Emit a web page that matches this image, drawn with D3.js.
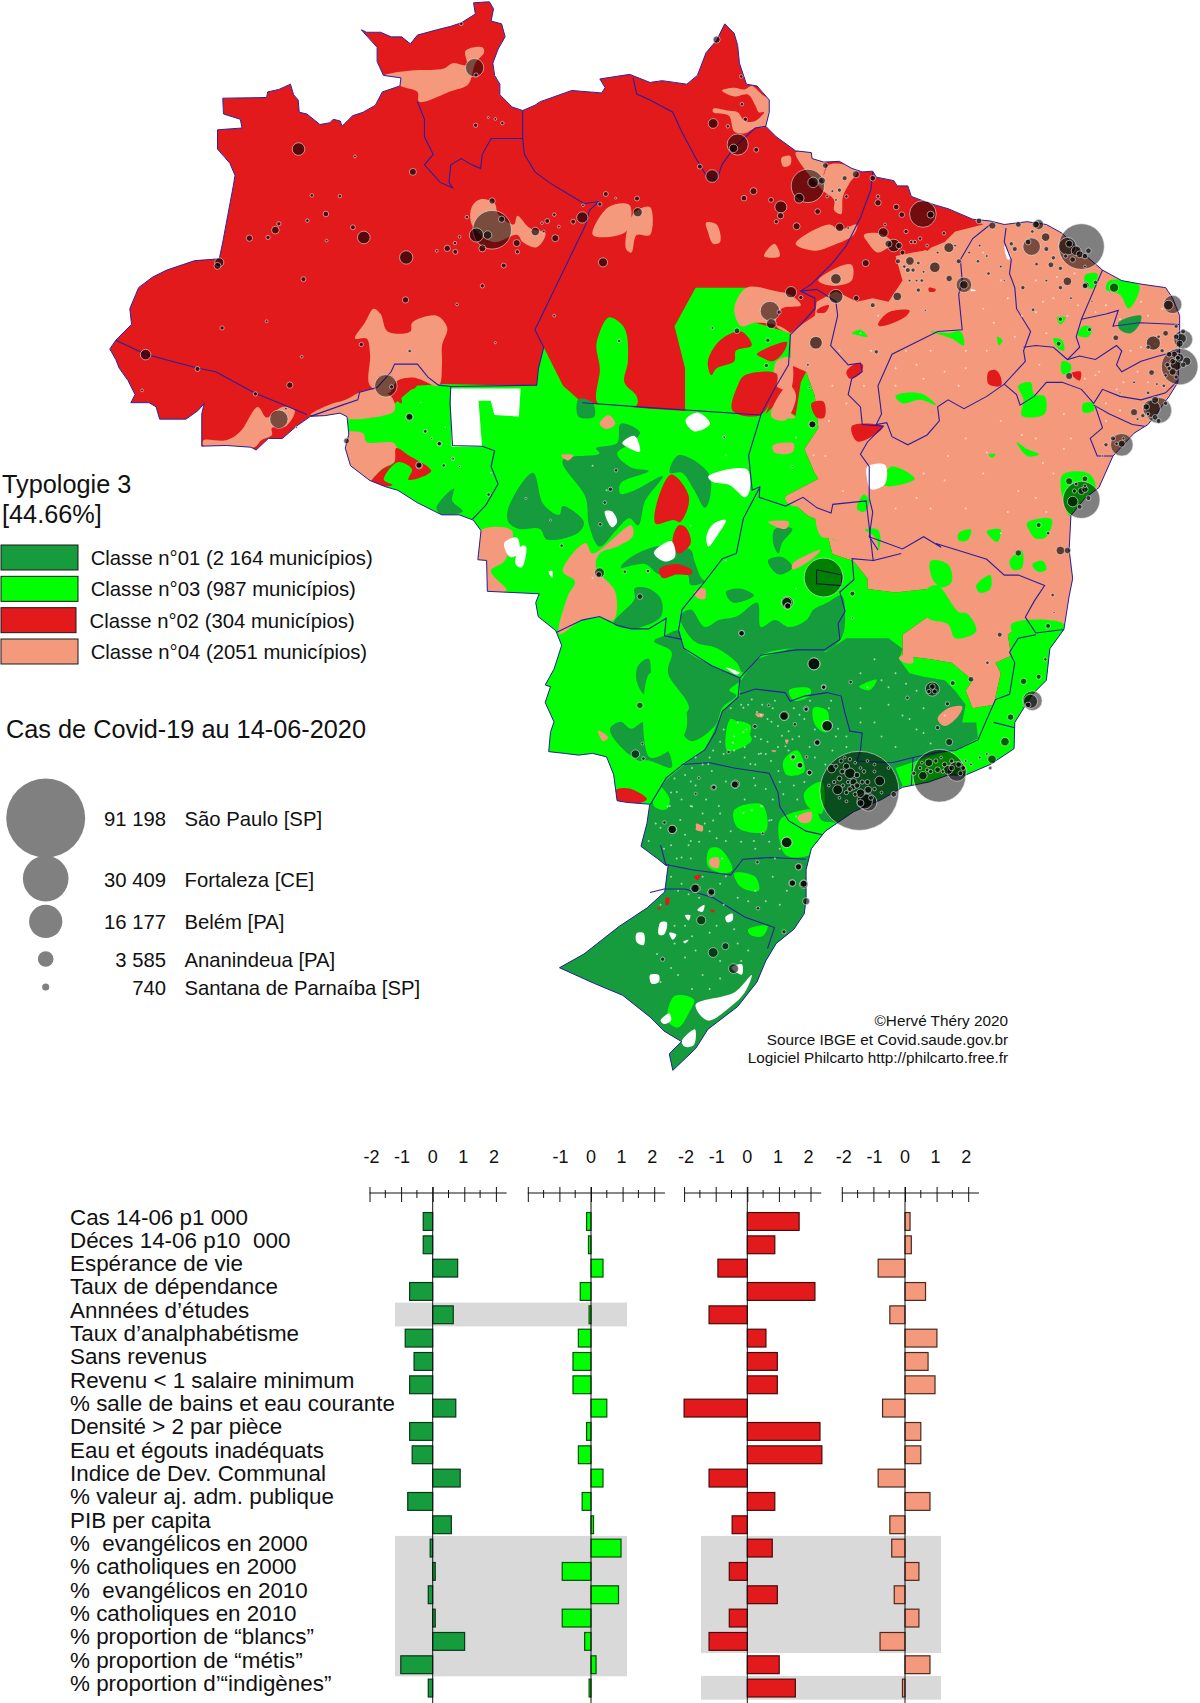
<!DOCTYPE html>
<html>
<head>
<meta charset="utf-8">
<title>Typologie 3</title>
<script src="https://cdn.jsdelivr.net/npm/d3@7"></script>
<style>
  html, body { margin: 0; padding: 0; background: #fff; }
  svg { display: block; }
  text { font-family: "Liberation Sans", Arial, sans-serif; fill: #111; white-space: pre; }
</style>
</head>
<body>
<svg width="1200" height="1703"></svg>
<script>
// ---- bar chart data ----
var rowLabels = ['Cas 14-06 p1 000', 'Déces 14-06 p10  000', 'Espérance de vie', 'Taux de dépendance',
  'Annnées d’études', 'Taux d’analphabétisme', 'Sans revenus', 'Revenu < 1 salaire minimum',
  '% salle de bains et eau courante', 'Densité > 2 par pièce', 'Eau et égouts inadéquats',
  'Indice de Dev. Communal', '% valeur aj. adm. publique', 'PIB per capita', '%  evangélicos en 2000',
  '% catholiques en 2000', '%  evangélicos en 2010', '% catholiques en 2010', '% proportion de “blancs”',
  '% proportion de “métis”', '% proportion d’“indigènes”'];
var classe01 = [-0.30, -0.30, 0.79, -0.73, 0.65, -0.87, -0.59, -0.73, 0.73, -0.73, -0.65, 0.87, -0.79, 0.59, -0.08, 0.08, -0.14, 0.08, 1.01, -1.01, -0.14];
var classe03 = [-0.14, -0.08, 0.38, -0.34, -0.06, -0.40, -0.57, -0.57, 0.50, -0.14, -0.40, 0.38, -0.28, 0.08, 0.95, -0.91, 0.87, -0.91, -0.20, 0.16, -0.06];
var classe02 = [1.64, 0.87, -0.93, 2.14, -1.21, 0.59, 0.95, 0.95, -2.00, 2.30, 2.36, -1.21, 0.87, -0.48, 0.79, -0.57, 0.95, -0.57, -1.21, 1.01, 1.52];
var classe04 = [0.16, 0.20, -0.85, 0.65, -0.48, 1.01, 0.73, 0.95, -0.71, 0.50, 0.50, -0.85, 0.79, -0.48, -0.42, 0.44, -0.34, 0.44, -0.79, 0.79, -0.08];
var panelLabels = [[-2, -1, 0, 1, 2], [-1, 0, 1, 2], [-2, -1, 0, 1, 2], [-2, -1, 0, 1, 2]];
var greyRows12 = [[4, 4], [14, 19]];
var greyRows34 = [[14, 18], [20, 20]];

// ---- legend data ----
var legendClasses = ['Classe n°01 (2 164 municípios)', 'Classe n°03 (987 municípios)', 'Classe n°02 (304 municípios)', 'Classe n°04 (2051 municípios)'];
var sizeValues = [91198, 30409, 16177, 3585, 740];
var sizeTexts = ['91 198', '30 409', '16 177', '3 585', '740'];
var sizeNames = ['São Paulo [SP]', 'Fortaleza [CE]', 'Belém [PA]', 'Ananindeua [PA]', 'Santana de Parnaíba [SP]'];
var credits = ['©Hervé Théry 2020', 'Source IBGE et Covid.saude.gov.br', 'Logiciel Philcarto http://philcarto.free.fr'];

var darkGreen = '#169c3c', brightGreen = '#00ff00', red = '#e31a1c', salmon = '#f4997b', navy = '#2a1f9e';

// ---- map data. A letter switches the tracing sheet ----
var countryShape = 'A 350,280 475,278 478,262 510,255 543,240 552,270 565,285 568,320 590,325 627,355 655,350 665,340 685,345 690,360 720,330 750,320 785,300 805,262 855,245 858,222 808,215 790,175 790,135 745,85 760,92 800,92 830,105 860,105 885,125 905,100 960,85 1000,75 1030,65 1070,40 1065,8 1110,5 1122,25 1115,60 1145,68 1155,105 1135,140 1120,180 1125,215 1140,240 1140,270 1175,305 1205,315 1240,300 1255,290 1325,265 1345,258 1430,265 1440,250 1425,225 1510,212 1568,235 ' +
  'B 35,230 70,235 105,240 135,215 160,150 190,115 213,68 240,95 250,130 255,180 275,240 305,245 340,285 340,320 330,360 360,390 415,430 460,435 462,452 495,462 540,460 575,480 605,490 635,488 645,505 695,515 705,530 735,530 745,560 785,575 815,585 850,595 920,625 970,630 1010,640 1075,632 1130,640 1175,665 1220,710 1290,770 1345,800 1400,810 1470,820 1490,850 1510,900 1510,1000 1505,1090 1480,1130 1420,1210 1380,1235 1320,1300 1280,1390 1240,1420 1200,1470 1195,1568 ' +
  'D 1205,110 1195,160 1180,255 1140,310 1130,400 1090,440 1040,520 1038,595 970,640 900,670 850,670 795,690 720,705 660,740 580,775 500,830 460,880 445,940 445,1020 440,1065 410,1110 360,1150 330,1200 305,1260 250,1330 165,1395 130,1450 65,1512 55,1465 90,1430 40,1400 0,1360 ' +
  'F 745,1445 705,1428 655,1405 690,1385 740,1345 780,1318 805,1295 810,1255 ' +
  'C 930,1470 905,1450 858,1415 875,1350 883,1295 820,1290 790,1285 780,1210 760,1160 720,1150 680,1155 640,1150 595,1145 600,1090 610,1060 585,1005 600,960 585,955 610,910 632,842 615,800 565,760 558,720 568,695 420,688 418,600 393,598 402,515 380,485 340,470 290,470 220,435 165,400 130,390 85,372 30,330 15,280 25,240 20,190 0,180 ' +
  'A 640,1185 600,1187 560,1215 520,1250 480,1250 445,1283 430,1275 360,1270 290,1272 290,1180 297,1150 280,1170 245,1195 170,1195 160,1160 140,1148 88,1148 100,1125 80,1085 55,1050 45,1025 28,995 45,970 90,925 85,880 110,820 150,790 190,770 270,743 340,738 350,690 380,530 385,500 370,465 335,425 335,370 405,365 400,340 352,325';

var salmonEast = 'B 860,560 1620,560 1620,1568 D 1250,250 1180,255 1060,240 1020,270 1030,330 985,350 1000,380 980,470 920,480 900,430 920,400 860,350 800,340 720,330 720,270 790,220 790,140 700,150 620,140 620,110 580,60 520,40 510,0 ' +
  'B 495,1490 450,1470 385,1415 480,1365 470,1350 440,1280 480,1220 470,1130 445,1060 400,1040 400,950 440,920 470,900 475,860 530,830 590,860 635,850 680,860 720,800 700,730 750,720 780,715 840,690 870,660 950,640 850,590';

var greenCentral = 'A 695,1195 780,1190 840,1150 900,1100 980,1095 1200,1100 1245,1098 1250,1050 1265,990 1300,1060 1320,1100 1375,1148 ' +
  'B 0,1165 100,1172 100,1050 70,930 130,820 275,820 240,880 270,910 400,950 400,1040 360,1100 330,1180 360,1150 415,1185 430,1090 445,1060 470,1130 480,1220 440,1280 470,1350 480,1365 385,1415 450,1470 495,1490 ' +
  'D 510,0 520,40 580,60 620,110 620,140 700,150 790,140 790,220 720,270 720,330 800,340 860,350 920,400 900,430 920,480 980,470 1000,380 985,350 1030,330 1020,270 1060,240 1180,255 1300,250 1300,800 1300,1550 -300,1550 ' +
  'A 400,1500 600,1300';

var darkSouth = 'D 260,400 300,340 400,310 460,300 500,320 560,280 620,280 680,280 720,310 710,340 740,380 780,390 840,400 870,430 900,470 890,520 930,520 935,565 880,595 820,610 760,630 700,650 720,700 700,720 700,900 700,1550 ' +
  'F 600,1560 620,1400 810,1250 C 930,1470 858,1415 885,1295 930,1225 985,1180 1040,1140 1060,1100 1090,1030 1140,985 1140,935 ';

var darkPatches = [
  'C 895,830 945,860 935,920 995,1020 965,1060 1000,1115 1070,1070 1090,1020 1130,985 1110,970 1140,940 1060,900 980,850 965,800 925,815',
  'C 970,760 1000,740 1040,790 1080,770 1130,760 1190,720 1200,790 1240,770 1280,790 1330,770 1350,740 1390,720 1430,700 1440,760 1430,820 1380,860 1300,850 1200,870 1150,920 1130,890 1075,850 1010,830',
  'C 635,315 740,295 730,280 790,265 800,210 855,235 830,265 790,295 830,335 880,345 800,380 800,410 840,400 920,360 870,430 850,500 825,480 790,510 740,560 710,500 700,420',
  'C 550,350 580,440 625,470 635,445 695,490 680,520 590,540 570,510 510,510 480,490 480,450',
  'C 965,300 1050,350 1055,420 1040,450 1010,400 975,350 940,350',
  'C 800,620 830,590 900,560 950,560 1000,570 1010,600 1030,650 1040,660 1000,670 990,640 910,640 870,610',
  'C 780,780 840,710 840,680 880,680 915,710 915,760 860,790 830,795',
  'C 680,140 720,150 725,190 680,190',
  'C 275,450 325,395 320,430 350,460 290,470',
  'C 850,900 880,880 890,950 910,985 870,985 845,940',
  'C 770,1080 800,1060 830,1080 870,1060 930,1130 945,1190 880,1170 850,1170 790,1120',
  'B 1335,920 1400,900 1395,925 1370,950 1340,940',
  'C 1220,600 1260,590 1290,620 1250,640',
  'C 1100,690 1140,680 1180,700 1120,720',
  'C 1240,510 1290,510 1260,550 1250,580 1235,550'
];

var greenPatches = [
  'A 1420,960 1450,905 1495,935 1505,1030 1495,1090 1530,1130 1530,1155 1420,1150 1425,1050 1415,990',
  'D 370,800 400,780 470,770 490,800 530,810 470,880 450,900 390,900 370,860',
  'D 240,770 320,755 330,830 250,820', 'D 170,880 200,880 235,940 210,950 165,930', 'D 280,1110 335,1100 320,1130 285,1125',
  'D 70,1300 125,1310 110,1350 80,1390 50,1370', 'D 240,950 300,960 310,1000 260,990', 'D 230,510 290,570 220,600',
  'D 380,630 420,600 440,660 390,670', 'D 440,720 490,690 490,780 450,760', 'D 0,380 100,480 95,560 0,620',
  'C 905,1240 940,1280 930,1310 895,1300', 'C 1130,1320 1170,1300 1200,1360 1130,1350', 'C 1130,1060 1170,1070 1165,1100 1135,1090',
  'C 1280,970 1340,965 1340,985 1295,1000', 'C 1350,1020 1390,1030 1385,1090 1355,1070', 'C 1480,960 1530,940 1510,970',
  'B 575,950 600,940 620,960 590,955', 'B 800,945 850,950 885,945 895,985 860,965', 'B 990,960 1005,970 995,985',
  'B 700,1130 730,1120 780,1125 815,1155 770,1140 720,1150', 'B 1050,1100 1085,1090 1095,1125 1125,1130 1125,1180 1060,1185 1065,1140',
  'B 1045,1260 1075,1280 1110,1295 1075,1300', 'B 1235,1150 1265,1150 1265,1170 1235,1175', 'B 665,1360 690,1330 755,1365 670,1385',
  'B 1240,785 1275,780 1265,820 1245,820', 'B 1310,800 1395,815 1365,880 1340,840 1300,825', 'B 1160,905 1185,905 1170,925',
  'B 1150,965 1175,970 1180,1000 1160,990', 'B 1175,1030 1200,1040 1195,1065 1175,1065', 'B 1235,930 1260,935 1250,960 1220,955',
  'B 965,1295 985,1295 975,1305', 'B 1175,1355 1250,1350 1270,1390 1210,1470 1195,1470', 'B 1075,1490 1145,1480 1130,1530 1100,1535 1080,1510',
  'B 880,1520 915,1510 905,1540 880,1540', 'B 960,1515 1000,1510 990,1545', 'B 500,1520 550,1500 550,1545', 'B 590,1520 650,1510 650,1568 590,1560',
  'B 610,1410 625,1430 610,1460 590,1450',
  'D 1025,60 1060,30 1060,80 1035,85', 'D 930,130 970,100 970,140 940,150', 'D 800,60 850,70 860,120 830,135 805,110', 'D 1090,70 1120,60 1130,85 1105,90',
  'D 790,140 820,130 880,205 905,210 930,260 870,280 850,240 790,220', 'D 1030,240 1180,240 1180,290 1050,285'
];

var salmonPatches = [
  'A 450,1160 475,1190 520,1160 555,1170 530,1215 490,1220 490,1240 460,1255 440,1275 360,1270 295,1270 295,1255 360,1255 400,1230',
  'A 810,215 850,205 900,200 980,195 1005,180 1045,185 1042,145 1090,135 1095,150 1070,180 1050,240 1000,260 910,290 905,262 855,243 855,225',
  'A 780,880 800,895 820,945 885,945 890,920 960,900 990,935 975,985 975,1040 965,1100 905,1080 850,1085 825,1120 770,1100 770,1010 760,965 727,965 755,920',
  'A 600,1182 650,1155 700,1140 740,1118 780,1110 830,1130 840,1170 780,1190 695,1195 640,1185',
  'A 1060,590 1085,568 1125,580 1135,610 1180,640 1190,615 1225,650 1270,665 1245,705 1205,690 1190,670 1120,690 1060,640',
  'A 1405,670 1450,590 1510,585 1500,660', 'A 1520,610 1568,590 1568,670 1530,670 1515,720 1500,710',
  'A 700,1235 750,1235 760,1260 840,1265 845,1310 800,1340 770,1370 730,1360 705,1300',
  'B 205,258 240,250 270,255 290,245 320,270 345,290 330,360 300,365 270,380 240,375 225,330 180,320 180,310 220,315 250,320 270,345 300,345 325,320 310,320 300,300 280,270 240,275',
  'B 375,450 400,445 400,470 380,475', 'B 160,635 190,640 200,690 180,695 165,660', 'B 325,730 355,695 370,730 345,735',
  'B 415,435 460,435 500,465 495,500 510,470 560,470 590,490 570,520 550,560 545,610 525,600 525,570 490,540',
  'B 415,695 510,640 540,655 590,640 580,670 520,700 470,715', 'B 480,800 540,760 575,755 575,800 520,815', 'B 610,670 650,665 690,690 650,720 620,690',
  'B 275,820 360,830 400,840 430,870 375,880 360,930 400,950 370,930 300,920 260,930 240,880',
  'B 360,1030 400,1020 400,1110 360,1100', 'B 350,1270 410,1265 405,1290 355,1290', 'B 355,1150 385,1170 415,1190 380,1190',
  'C 400,515 490,515 470,600 430,630 475,685 420,688 393,598',
  'C 635,630 700,550 720,580 830,500 835,530 790,560 740,580 730,620 785,690 780,770 740,762 690,770 625,810 650,700 670,660',
  'C 1010,690 1040,680 1040,710 1015,705', 'C 740,210 765,185 785,210 760,225', 'C 630,300 665,300 650,315',
  'C 1240,150 1280,100 1300,130 1270,200 1230,190', 'C 1220,490 1280,490 1270,510', 'C 1290,610 1340,580 1370,570 1340,600 1290,625',
  'C 1360,470 1440,490 1530,540 1520,600 1455,590 1410,540 1370,530', 'C 1270,420 1340,400 1400,460 1340,450 1280,440',
  'D 850,480 890,475 880,500 840,530 820,510', 'D 300,495 325,497 320,505 305,503', 'D 135,815 150,815 150,830 130,825',
  'D 170,910 195,905 195,935 172,930', 'D 420,790 460,775 450,805 430,805', 'D 345,600 360,600 355,605', 'D 385,570 395,570 390,582',
  'D 710,335 745,325 750,350 725,350', 'C 1185,1040 1205,1040 1205,1045', 'C 1015,1350 1035,1360 1020,1370', 'C 1310,1330 1345,1320 1340,1345 1310,1345',
  'C 735,1085 765,1105 750,1115'
];

var redPatches = [
  'A 850,1085 905,1080 900,1105 860,1120 860,1150 830,1120',
  'C 160,280 195,300 260,345 195,370 205,340 165,320 125,370 150,385 85,385 120,340 155,320',
  'B 165,1030 200,970 260,945 290,985 245,1000 240,1030 190,1050 175,1070', 'B 305,1010 390,975 380,1005 350,1030 320,1020',
  'B 235,1170 250,1100 270,1070 360,1065 360,1100 315,1183',
  'B 560,1060 590,1035 607,1040 600,1065 570,1080', 'B 575,1215 665,1215 640,1240 590,1258', 'B 965,1060 985,1055 1000,1075 1000,1100 965,1095',
  'B 650,925 680,890 740,885 725,905 655,930', 'B 795,820 815,825 810,832 795,830', 'B 1200,1065 1228,1060 1225,1085', 'B 460,1150 495,1145 497,1190 475,1190',
  'B 480,880 510,870 500,890 475,890', 'B 780,705 800,705 790,715',
  'C 945,355 995,420 970,490 950,485 900,495 905,430', 'C 965,500 985,505 1000,550 965,580 948,545', 'C 910,625 960,610 1005,630 1000,640 960,640 920,650',
  'C 785,1255 825,1250 875,1280 860,1290 795,1292', 'D 45,1020 55,1020 52,1040 45,1040', 'D 125,960 145,955 135,970', 'D 170,1055 185,1055 180,1062', 'D 20,1048 30,1048 28,1055'
];

// the Rondônia block has straight cut edges, the rest are soft
var whiteBlock = 'C 315,110 515,110 510,190 440,185 430,145 395,145 405,275 318,275';
var whitePatches = [
  'C 985,200 1020,178 1055,210 1010,232', 'C 805,265 840,245 855,290 825,280', 'C 755,460 775,460 790,490 775,505',
  'C 1050,360 1160,340 1168,400 1155,420 1110,385 1060,375', 'C 1045,530 1065,495 1100,485 1075,530 1050,560', 'C 895,578 945,545 955,590 925,603',
  'C 468,550 505,535 510,580 485,590', 'C 515,560 530,560 518,620 500,610', 'C 595,632 605,630 605,650', 'C 1100,905 1140,920 1130,925',
  'B 620,1330 670,1325 670,1380 630,1395 618,1360', 'B 1010,700 1030,735 1020,740', 'B 915,825 930,828 915,830',
  'D 130,1325 240,1290 290,1240 270,1290 230,1330 165,1370', 'D 30,1090 48,1090 40,1125 25,1125', 'D 0,1240 25,1240 25,1260 5,1265',
  'D 90,1430 128,1395 125,1440 100,1445', 'D 30,1370 55,1350 60,1370 40,1380', 'D 55,1120 75,1125 65,1140', 'D 95,1145 110,1140 100,1150',
  'D 215,1075 235,1065 235,1085 220,1090', 'D 135,1055 155,1040 150,1060', 'D 100,1070 115,1070 110,1085',
  'F 765,1355 775,1355 775,1372 765,1368', 'F 900,1405 915,1400 915,1415', 'F 790,1415 795,1425 785,1425'
];

var stateBorders = [
  'A 45,970 130,1010 280,1050 330,1060 440,1120 590,1182',
  'A 905,290 925,340 925,390 950,440 925,470 970,520 1005,535 995,520 1000,470 1030,452 1060,470 1085,480 1090,440 1115,395 1205,395 1205,315',
  'A 1205,395 1210,440 1240,490 1280,520 1330,550 1380,580 1422,575 1395,600 1385,640 1240,940 1265,990 1250,1050 1245,1098 1000,1102',
  'A 600,1187 690,1155 735,1140 740,1118 790,1105 830,1060 840,1038 905,1038 935,1075 965,1098 1000,1102 998,1150 1005,1270 1090,1272 1125,1285 1115,1330 1135,1380 1100,1440 1062,1480',
  'A 1375,1148 1568,1162 B 315,1183 360,1100 395,1040 400,955 430,925 470,880 470,850 430,830 460,810 520,750 560,700 600,620 630,540 635,490',
  'A 1520,222 1530,268 1568,285 B 0,285 65,320 90,375 130,450 160,500 190,515 205,470 240,420 300,365 330,360',
  'B 430,830 475,825 530,860 535,900 515,985 565,1040 600,1035 605,1060 575,1080 565,1125 600,1160 605,1210 665,1215 620,1260 600,1295 625,1330 625,1420 635,1460 625,1530 650,1568',
  'B 1015,650 1010,690 1030,740 1025,780 1040,820 1045,880 1085,945 1065,1000 1070,1030 1010,1095',
  'B 970,640 920,680 885,740 890,800 880,840 890,940 820,945 780,965 690,1010 650,1100 660,1180 645,1210 675,1205 690,1245 735,1268 790,1240 825,1200 820,1160 850,1140 895,1165 960,1130 1010,1095',
  'B 1010,1095 1045,1125 1055,1155 1095,1130 1130,1090 1175,1090 1230,1110 1265,1150 1290,1110 1340,1130 1400,1140 1470,1120 1505,1085',
  'B 1065,990 1100,985 1150,990 1190,1025 1225,1015 1270,1025 1330,985 1345,1000 1330,1040 1345,1060 1400,1030 1450,1015 1510,1000',
  'B 1290,770 1260,840 1230,910 1215,960 1225,990 1190,1025', 'B 1230,910 1300,895 1335,885 1320,930 1395,920 1510,925',
  'B 1265,1155 1310,1180 1375,1210 1410,1215', 'B 1270,1160 1290,1220 1255,1250 1275,1300 1320,1300',
  'B 625,1530 720,1565 780,1530 830,1560 D 815,10 880,30 960,55 1010,100 1050,100 1125,130 1095,175 1070,220 1100,265 1180,255',
  'C 1200,185 1165,300 1175,400 1197,390 1195,420 1270,445 1320,420 1360,450 1400,465 1405,440 1500,430 1520,600 1600,580',
  'C 1195,395 1150,480 1130,580 1090,595 1040,660 975,740 965,800 980,850 1060,900 1140,935 1135,990 1090,1030 1070,1090 1040,1140 980,1180 930,1220 885,1295',
  'C 618,805 690,770 740,760 790,785 830,795 880,795 930,765 925,815 975,825',
  'C 1140,935 1200,870 1300,855 1380,855 1425,825 1420,780 1440,745 1425,690 1465,655 1460,595 1520,600',
  'D 255,440 300,425 385,435 400,460 440,445 505,435 545,445 555,490 570,545 605,550 600,600 590,630 690,635 750,620 820,605 870,600 935,570 965,500 985,455 1025,440 1040,350 1025,320 1050,280 1100,270',
  'D 980,520 1040,535', 'D 750,620 745,700', 'D 90,640 170,635 240,650 340,665 365,720 370,760 395,800 445,830 490,840',
  'D 30,870 45,925 120,940 230,955 265,910 345,905 445,910', 'D 0,1005 40,995 100,995 180,1020 270,1075 355,1105 335,1165',
  'D 475,85 548,100 545,130 475,125 475,85'
];

// [sheet x, sheet y, cases]
var casesA = [[566,425,2330],[752,677,2330],[873,734,2600],[1118,655,21800],[1073,670,2880],[1105,670,1040],[1145,625,580],[1090,708,720],[1188,693,720],[1241,660,1040],[1298,679,720],[1375,620,1840],[1349,632,350],[1275,630,350],[1295,612,180],[1260,636,115],[1118,573,580],[1190,718,260],[1151,757,350],[1090,815,260],[871,855,580],[892,490,720],[644,610,460],[500,656,870],[510,638,260],[479,677,260],[426,679,580],[580,796,350],[340,748,1200],[335,758,720],[130,1011,1620],[278,1052,350],[348,935,260],[541,1098,580],[443,1123,260],[510,1195,4900],[530,1165,115],[560,1218,65],[815,1100,7400],[883,1001,180],[745,982,260],[703,1257,460],[1068,193,4900],[1072,214,260],[1071,357,260],[1127,339,115],[1147,351,180],[1107,335,65],[1030,68,180],[990,708,580],[1012,693,180],[1013,718,350],[1025,675,115],[1046,619,180],[960,715,115],[721,648,350],[604,557,180],[684,559,180],[591,629,180],[646,686,115],[475,916,115],[575,1017,115],[727,446,115],[1018,868,115],[1127,977,65],[1295,900,115],[1434,748,1220],[1533,605,1220],[1442,553,350],[1531,566,350],[1470,565,65],[1425,582,260],[1377,585,115],[120,1113,115],[1308,646,115],[1265,660,115],[1480,972,180],[882,1190,720],[927,1230,180],[968,1265,350],[1006,1308,180],[980,1327,180],[910,1328,580],[1108,1410,180],[945,1250,65],[1025,1330,65]];
var casesB = [[190,113,720],[180,352,1400],[250,412,6500],[238,423,1040],[303,427,350],[177,502,2330],[142,475,350],[260,218,180],[262,297,180],[272,340,260],[222,360,180],[450,530,16177],[425,565,1400],[465,520,1620],[490,515,720],[500,472,460],[373,590,2100],[295,545,720],[268,565,460],[345,570,350],[360,632,260],[372,615,580],[418,645,720],[478,603,460],[541,648,1040],[540,542,260],[555,508,350],[587,497,720],[635,508,460],[650,578,580],[702,590,460],[718,612,460],[778,610,10400],[800,612,720],[665,663,1400],[695,700,2330],[707,745,350],[741,744,1040],[812,762,1620],[852,706,1400],[853,794,580],[765,827,260],[705,845,1040],[635,870,350],[588,850,460],[615,750,720],[530,795,1620],[530,845,2880],[402,833,1850],[342,887,5600],[346,923,1400],[368,890,260],[430,848,260],[473,977,2330],[332,1042,260],[336,970,260],[248,943,460],[178,935,115],[462,1210,720],[645,1003,260],[895,812,3500],[895,812,1040],[976,643,720],[938,630,460],[1050,640,460],[1078,690,460],[1088,703,4500],[1108,640,1400],[1128,676,1040],[1230,703,30409],[1190,702,4500],[1215,715,1400],[1195,695,720],[1240,730,460],[1190,802,1040],[1243,813,580],[1170,820,260],[1143,755,460],[1170,765,260],[1102,753,180],[1063,820,260],[1092,883,180],[1323,820,1200],[1270,805,260],[1240,815,460],[1490,868,4900],[1478,870,1400],[1520,968,5200],[1515,965,1400],[1435,978,2880],[1510,1045,19500],[1500,1040,1850],[1520,1040,460],[1480,1010,460],[1328,963,460],[1165,980,350],[1170,910,260],[1253,940,260],[1195,1072,720],[1430,1062,460],[1450,1170,9900],[1430,1165,4500],[1380,1175,720],[1345,1268,7400],[1345,1265,720],[1320,1250,350],[1300,1268,260],[1230,1425,20000],[1195,1372,720],[1240,1365,460],[1205,1430,1620],[1240,1395,580],[1108,1497,350],[1135,1520,180],[935,745,180],[965,780,180],[880,745,350],[838,665,180],[770,680,180],[750,770,260],[735,770,350],[765,750,180],[775,800,180],[785,885,65],[450,1040,115],[454,1105,65],[405,1330,65],[212,1247,65],[1510,980,720],[1495,1010,580],[1490,1060,720],[1475,1040,350],[1460,1000,260],[1500,1075,260],[1440,1140,720],[1415,1160,580],[1405,1185,260],[1465,1100,180],[1420,1120,180],[1530,1030,1040],[1510,1020,1040],[1500,960,460],[1250,715,460],[1225,725,720],[1205,740,460],[1185,730,260],[1030,695,260],[1040,710,350],[1100,640,720],[1090,660,180],[730,660,260],[745,690,180],[680,695,720],[710,700,580],[670,640,115],[650,560,180],[565,650,115],
  [720,720,350],[755,690,180],[790,700,115],[820,720,115],[740,800,115],[760,800,115],[725,760,180],[780,775,115],[870,700,115],[910,720,115],[940,700,115],[960,730,115],[1010,800,65],[1000,760,115],[1130,710,350],[1150,735,260],[1130,800,115],[1200,850,115],[1260,860,65],[1240,760,115],[520,545,115],[530,570,115],[560,560,180],[505,560,115],[1450,1200,350],[1440,1190,460],[1470,1150,260],[1420,1180,180],[1390,1195,115],[1505,1020,350],[1490,1030,460],[1480,1050,260],[1470,1070,180],[1445,1095,115],[1380,1090,115],[1340,1120,65],[1420,990,260],[1450,960,180],[1470,950,460],[1500,930,260],[1520,945,350],[1230,1400,720],[1250,1420,350],[1225,1445,350],[1240,1385,180],[1210,1400,260],[1215,1380,180],[1330,1265,180],[1350,1250,115],[1290,1300,65]];
var casesC = [[198,190,720],[243,232,180],[283,267,260],[323,310,65],[225,328,580],[147,105,260],[740,635,1400],[738,640,460],[855,703,460],[878,630,180],[812,632,180],[787,343,180],[771,397,260],[755,435,180],[742,497,180],[632,558,180],[600,485,65],[530,423,65],[1095,248,115],[1347,212,720],[1275,720,2080],[1276,730,580],[1145,807,460],[1352,895,2080],[1379,960,350],[1267,1043,1200],[1389,1071,1620],[1360,1120,460],[1292,1160,260],[1310,1184,460],[1338,1205,350],[1330,1160,115],[1108,1146,180],[1183,1073,260],[1297,1067,180],[1329,1022,350],[1222,1013,115],[855,1013,580],[842,1152,1040],[862,1122,115],[865,1165,180],[1127,1238,1040],[1065,1247,460],[1023,1220,115],[1014,1265,115],[948,1367,1040],[925,1347,180],[1273,1404,1620],[1205,1378,115],[1308,1473,580],[1322,1523,1040],[1290,1520,580],[1190,1460,180],[1015,1535,1040],[1058,1548,720]];
var casesD = [[597,715,91198],[825,672,40500],[495,107,22000],[390,178,1400],[393,188,580],[261,266,460],[467,353,2080],[805,425,2880],[805,418,460],[812,432,350],[795,432,260],[1090,458,5600],[1085,460,2880],[1078,470,460],[1012,575,1040],[1028,505,580],[1065,403,580],[1135,245,350],[997,270,350],[853,576,720],[975,625,1040],[505,530,1620],[382,502,1040],[477,577,460],[445,483,260],[407,620,350],[428,642,460],[455,663,350],[242,697,720],[182,705,260],[63,825,1040],[390,862,1620],[405,978,720],[438,980,720],[175,1003,720],[128,993,1040],[146,1084,1220],[180,1176,1400],[215,1158,720],[238,1222,1400],[423,932,580],[445,1030,720],[382,1117,260],[36,1195,260],[308,1050,180],[572,405,180],[495,420,260],[734,450,180],[820,535,260],[848,467,260],[863,408,350],[915,397,460],[962,350,180],[1050,37,580],[1190,30,580],[1170,30,1040],[1148,157,180],[1152,207,65],[577,153,350],[577,222,65],[1108,390,350],[1127,340,180],
  [518,652,1040],[535,712,1400],[570,665,1620],[580,690,720],[600,722,1040],[622,712,720],[655,687,1400],[612,745,3500],[622,748,4500],[560,645,580],[578,705,460],[545,630,260],[590,700,460],[620,690,350],[600,750,720],[560,720,260],[540,680,350],[695,725,460],[530,645,260],[570,625,180],[610,660,180],
  [875,660,5600],[880,640,460],[850,655,1200],[795,635,870],[778,672,1040],[820,655,460],[815,630,260],[860,630,260],[790,655,180],[893,650,350],[752,665,260],
  [548,660,350],[590,670,460],[605,690,260],[570,710,350],[550,700,180],[585,725,260],[565,690,180],[630,735,350],[640,710,180],[600,650,115],[640,660,115],[525,690,180],[510,700,115],[555,620,115],[585,635,115],[620,630,115],[640,640,115],[680,650,115],[660,720,115],[540,735,115],[560,745,115],
  [840,640,350],[860,650,460],[885,665,350],[835,660,180],[800,660,260],[770,650,180],[775,635,115],[830,620,115],[900,630,115],[915,640,115],[940,620,115],[960,610,115],[970,650,180]];

// tiny pale municipalities
var tinyD = [[230,480],[260,470],[290,455],[320,470],[350,480],[410,480],[440,510],[470,540],[510,480],[530,560],[210,540],[240,560],[270,590],[310,610],[345,630],[210,610],[170,620],[130,620],[100,670],[130,700],[160,740],[200,780],[230,830],[190,850],[110,870],[50,760],[40,880],[90,905],[300,700],[320,760],[340,800],[370,690],[410,700],[470,620],[520,600],[560,590],[600,480],[640,520],[680,470],[720,500],[760,540],[800,580],[640,340],[600,380],[680,420],[730,410],[780,480],[840,500],[60,960],[90,980],[150,960],[200,980],[250,1020],[300,1000],[350,960],[390,1000],[30,1040],[70,1100],[120,1130],[190,1100],[240,1110],[60,1220],[100,1190],[150,1240],[200,1200],[260,1200],[120,1280],[20,1180],[170,1120],[70,1150],
  [280,470],[305,490],[335,510],[365,530],[395,545],[425,560],[455,590],[250,520],[275,540],[300,560],[335,575],[365,590],[395,600],[270,620],[300,640],[330,610],[240,600],[200,575],[180,600],[150,640],[120,650],[70,680],[60,720],[90,740],[120,760],[150,780],[180,800],[250,700],[270,740],[290,770],[330,710],[350,740],[380,725],[420,740],[440,690],[500,640],[560,560],[600,520],[660,560],[700,590],[740,510],[780,550],[620,420],[660,400],[700,380],[760,430],[30,820],[60,870],[100,840],[140,860],[170,830],[260,860],[300,880],[340,860],[370,880],[80,1000],[110,1010],[140,1020],[210,1040],[280,1030],[330,1030],[370,1040],[100,1100],[130,1170],[80,1240],[30,1260],[170,1280],[200,1250],[250,1150],[280,1170]];
var tinyB = [[1000,1200],[1100,1250],[1200,1250],[1150,1350],[1050,1400],[950,1350],[850,1300],[780,1350],[700,1450],[800,1450],[900,1450],[1000,1520],[1100,1420],[700,1050],[800,1000],[900,1050],[600,950],[650,900],[730,1000],[780,1080],[880,1100],[960,1000],[950,880],[1000,800],[950,720],[1060,900],[1100,800],[1150,850],[1220,870],[1210,780],[1130,950],[1300,870],[1400,860],[1280,1060],[1350,1090],[1440,980],[1400,990],[1240,1080],[1300,1200],[1180,1180],[1110,1040],[500,1300],[550,1400],[560,1150],[540,1000],
  [1060,1240],[1120,1320],[1180,1280],[900,1250],[960,1290],[840,1370],[760,1420],[1020,1460],[1130,1460],[1040,960],[1100,890],[1020,850],[980,920],[900,1000],[840,1060],[760,1040],[700,1100],[1160,790],[1120,860],[1190,900],[1270,890],[1340,910],[1420,900],[1460,880],[1370,1000],[1270,1070],[1330,1110],[1390,1060],[1420,1090],[1340,1170],[1300,1150],[610,1100],[630,1000],[520,1100],[510,1200]];
var tinyC = [[900,1350],[1000,1400],[1100,1400],[1200,1300],[1000,1300],[1240,1450],[960,1450],[1100,1500],[1200,1150],[1120,1120],[1180,1220],[1260,1100],[1340,1000],[1420,1080],[1240,1000],[230,150],[300,220],[430,350],[720,650],[760,400],[720,330],[1000,500],[1100,600],[1300,680],[1350,300],[1300,250],[1100,300],[1150,1020],[1290,1110],[1050,1180],
  [940,1300],[970,1340],[1040,1350],[1080,1300],[1130,1240],[1170,1180],[1230,1060],[1200,1040],[1150,1090],[1060,1200],[1000,1230],[960,1260],[1230,1340],[1180,1400],[1090,1450],[1250,1200],[1310,1040],[1400,1000],[1270,1130],[1200,1110],[1100,1230],[880,1400],[1150,1320],[1300,1330],[1000,1450]];

// ---- helpers ----
var sheets = {};
function addSheet(name, x0, xw, y0, yh) {
  sheets[name] = {
    x: d3.scaleLinear().domain([0, 1568]).range([x0, x0 + xw]),
    y: d3.scaleLinear().domain([0, 1568]).range([y0, y0 + yh])
  };
}
addSheet('A', 100, 550, 0, 550);
addSheet('B', 650, 550, 0, 550);
addSheet('C', 340, 550, 350, 550);
addSheet('D', 650, 550, 540, 550);
addSheet('F', 100, 1100, 0, 1080);

function trace(shape) {
  var pts = [], sh = null;
  shape.trim().split(/\s+/).forEach(function(tok) {
    if (/^[A-Z]$/.test(tok)) { sh = sheets[tok]; return; }
    var xy = tok.split(',');
    pts.push([sh.x(+xy[0]), sh.y(+xy[1])]);
  });
  return pts;
}

var svg = d3.select('svg');
var closedLine = d3.line().curve(d3.curveLinearClosed);
var softLine = d3.line().curve(d3.curveCatmullRomClosed.alpha(0.5));
var openLine = d3.line();

// ---- map fills ----
svg.append('defs').append('clipPath').attr('id', 'brazil')
  .append('path').attr('d', closedLine(trace(countryShape)));

var land = svg.append('g').attr('clip-path', 'url(#brazil)');

function fillLayer(shapes, colour, line) {
  land.append('g').selectAll('path').data(shapes).enter().append('path')
    .attr('d', function(d) { return (line || softLine)(trace(d)); })
    .attr('fill', colour);
}

land.append('path').attr('d', closedLine(trace(countryShape))).attr('fill', red);
fillLayer([salmonEast], salmon, closedLine);
fillLayer([greenCentral], brightGreen, closedLine);
fillLayer([darkSouth], darkGreen, closedLine);
fillLayer(darkPatches, darkGreen);
fillLayer(greenPatches, brightGreen);
fillLayer(salmonPatches, salmon);
fillLayer(redPatches, red);
fillLayer([whiteBlock], '#fff', closedLine);
fillLayer(whitePatches, '#fff');

// borders
svg.append('path').attr('d', closedLine(trace(countryShape)))
  .attr('fill', 'none').attr('stroke', navy).attr('stroke-width', 1);
svg.append('g').selectAll('path').data(stateBorders).enter().append('path')
  .attr('d', function(d) { return openLine(trace(d)); })
  .attr('fill', 'none').attr('stroke', navy).attr('stroke-width', 1.1);

// ---- proportional circles ----
var radius = d3.scaleSqrt().domain([0, 91198]).range([0, 39.5]);

function tinyLayer(list, name) {
  svg.append('g').selectAll('circle').data(list).enter().append('circle')
    .attr('cx', function(d) { return sheets[name].x(d[0]); })
    .attr('cy', function(d) { return sheets[name].y(d[1]); })
    .attr('r', 1)
    .attr('fill', '#fff').attr('fill-opacity', 0.6);
}
tinyLayer(tinyB, 'B');
tinyLayer(tinyC, 'C');
tinyLayer(tinyD, 'D');

var allCases = [];
[['A', casesA], ['B', casesB], ['C', casesC], ['D', casesD]].forEach(function(pair) {
  pair[1].forEach(function(d) {
    allCases.push({ cx: sheets[pair[0]].x(d[0]), cy: sheets[pair[0]].y(d[1]), v: d[2] });
  });
});
allCases.sort(function(a, b) { return b.v - a.v; });

svg.append('g').selectAll('circle').data(allCases).enter().append('circle')
  .attr('cx', function(d) { return d.cx; })
  .attr('cy', function(d) { return d.cy; })
  .attr('r', function(d) { return radius(d.v); })
  .attr('fill', '#000')
  .attr('fill-opacity', function(d) { return d.v > 3000 ? 0.5 : 0.62; })
  .attr('stroke', '#e6e6e6').attr('stroke-opacity', 0.85).attr('stroke-width', 0.7);

// ---- class legend ----
svg.append('text').attr('x', 2).attr('y', 493).attr('font-size', 25.3).text('Typologie 3');
svg.append('text').attr('x', 2).attr('y', 523).attr('font-size', 25.3).text('[44.66%]');

var legendColours = [darkGreen, brightGreen, red, salmon];
var legendY = d3.scalePoint().domain(legendClasses).range([545, 639]);
var legendRow = svg.append('g').selectAll('g').data(legendClasses).enter().append('g');
legendRow.append('rect')
  .attr('x', 1).attr('y', function(d) { return legendY(d); })
  .attr('width', function(d, i) { return i == 2 ? 75 : 77; }).attr('height', 25)
  .attr('fill', function(d, i) { return legendColours[i]; })
  .attr('stroke', '#1a1a1a').attr('stroke-width', 1);
legendRow.append('text')
  .attr('x', function(d, i) { return i == 2 ? 89.5 : 90.7; })
  .attr('y', function(d) { return legendY(d) + 20; })
  .attr('font-size', 20.3).text(function(d) { return d; });

// ---- size legend ----
svg.append('text').attr('x', 6).attr('y', 738).attr('font-size', 25.3).text('Cas de Covid-19 au 14-06-2020');
var sizeRowY = [818, 878.6, 921.4, 959, 987];
var sizeRow = svg.append('g').selectAll('g').data(sizeValues).enter().append('g');
sizeRow.append('circle')
  .attr('cx', 45.7).attr('cy', function(d, i) { return sizeRowY[i]; })
  .attr('r', function(d) { return radius(d); }).attr('fill', '#808080');
sizeRow.append('text').attr('x', 166).attr('text-anchor', 'end')
  .attr('y', function(d, i) { return sizeRowY[i] + 8; })
  .attr('font-size', 20.3).text(function(d, i) { return sizeTexts[i]; });
sizeRow.append('text').attr('x', 184.5)
  .attr('y', function(d, i) { return sizeRowY[i] + 8; })
  .attr('font-size', 20.3).text(function(d, i) { return sizeNames[i]; });

// credits
svg.append('g').selectAll('text').data(credits).enter().append('text')
  .attr('x', 1008).attr('y', function(d, i) { return 1026 + i * 18.5; })
  .attr('text-anchor', 'end').attr('font-size', 15.3).text(function(d) { return d; });

// ---- bar chart ----
var rowY = d3.scaleBand().domain(d3.range(rowLabels.length))
  .range([1209.8, 1209.8 + 21 * 23.33]).paddingInner(0.236).paddingOuter(0.118);

var labelsG = svg.append('g');
labelsG.selectAll('text').data(rowLabels).enter().append('text')
  .attr('x', 70).attr('y', function(d, i) { return 1224.5 + i * 23.33; })
  .attr('font-size', 22.4).text(function(d) { return d; });

function greyBands(rows, x0, x1) {
  var step = rowY.step();
  svg.append('g').selectAll('rect').data(rows).enter().append('rect')
    .attr('x', x0).attr('width', x1 - x0)
    .attr('y', function(d) { return rowY(d[0]) - step * 0.14; })
    .attr('height', function(d) { return step * (d[1] - d[0] + 1) + step * 0.02; })
    .attr('fill', '#d9d9d9');
}
greyBands(greyRows12, 395, 627);
greyBands(greyRows34, 701, 941);

var panels = [
  { zero: 432.7, values: classe01, fill: darkGreen, edge: '#07381a' },
  { zero: 591, values: classe03, fill: brightGreen, edge: '#055005' },
  { zero: 747.3, values: classe02, fill: red, edge: '#4e0708' },
  { zero: 905, values: classe04, fill: salmon, edge: '#4a2a20' }
];
var unit = 31.6;

panels.forEach(function(p, k) {
  var x = d3.scaleLinear().domain([-2, 2.34]).range([p.zero - 2 * unit, p.zero + 2.34 * unit]);
  var g = svg.append('g');

  // axis: line with half-unit ticks, labels well above
  var majorTicks = [-2, -1, 0, 1, 2];
  var minorTicks = [-1.5, -0.5, 0.5, 1.5];
  g.append('g').attr('transform', 'translate(0,1193)')
    .call(d3.axisBottom(x).tickValues(majorTicks).tickSize(9).tickFormat(''))
    .call(function(a) { a.select('.domain').attr('stroke', '#111').attr('d', 'M' + x.range()[0] + ',0H' + x.range()[1]); });
  g.selectAll('.tick line').attr('y1', -6).attr('stroke', '#111');
  g.append('g').selectAll('line').data(minorTicks).enter().append('line')
    .attr('x1', function(d) { return x(d); }).attr('x2', function(d) { return x(d); })
    .attr('y1', 1190).attr('y2', 1198).attr('stroke', '#111');

  g.append('g').selectAll('text').data(panelLabels[k]).enter().append('text')
    .attr('x', function(d) { return x(d) - d * 1.0; }).attr('y', 1163)
    .attr('text-anchor', 'middle').attr('font-size', 18).text(function(d) { return d; });

  g.append('g').selectAll('rect').data(p.values).enter().append('rect')
    .attr('x', function(d) { return Math.min(x(0), x(d)); })
    .attr('width', function(d) { return Math.abs(x(d) - x(0)); })
    .attr('y', function(d, i) { return rowY(i); })
    .attr('height', rowY.bandwidth())
    .attr('fill', p.fill).attr('stroke', p.edge).attr('stroke-width', 1.2);

  g.append('line').attr('x1', x(0)).attr('x2', x(0)).attr('y1', 1187).attr('y2', 1703)
    .attr('stroke', '#111').attr('stroke-width', 1);
});
</script>
</body>
</html>
